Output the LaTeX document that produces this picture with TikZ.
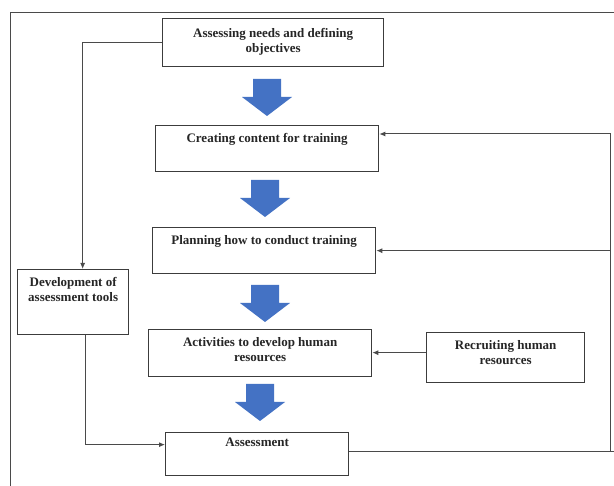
\documentclass[tikz,border=0pt]{standalone}
\usepackage{fontspec}
\setmainfont{Liberation Serif}
\usetikzlibrary{arrows.meta}
\definecolor{boxline}{HTML}{3C3C3C}
\definecolor{connline}{HTML}{4A4A4A}
\definecolor{arrowblue}{HTML}{4472C4}
\begin{document}
\begin{tikzpicture}[x=1pt,y=-1pt,
  box/.style={draw=boxline, line width=1.3pt, anchor=north west, inner sep=0pt},
  txt/.style={anchor=north, align=center, inner sep=0pt, text=black!85,
    font=\bfseries\fontsize{13}{15}\selectfont},
  conn/.style={draw=connline, line width=1pt},
  tip/.style={-{Latex[length=6pt,width=5pt]}},
  frameline/.style={draw=connline, line width=1pt},
  bigarr/.pic={\fill[arrowblue] (-14,0) -- (14,0) -- (14,18) -- (25,18) -- (0,37) -- (-25,18) -- (-14,18) -- cycle;}]
\useasboundingbox (0,0) rectangle (614,486);
\fill[white] (0,0) rectangle (614,486);
% frame
\draw[frameline] (10,486) -- (10,13) -- (614,13);
% boxes
\node[box, minimum width=221pt, minimum height=48pt] (b1) at (162,18) {};
\node[box, minimum width=223pt, minimum height=46pt] (b2) at (155,125) {};
\node[box, minimum width=223pt, minimum height=46pt] (b3) at (152,227) {};
\node[box, minimum width=223pt, minimum height=47pt] (b4) at (148,329) {};
\node[box, minimum width=183pt, minimum height=43pt] (b5) at (165,432) {};
\node[box, minimum width=111pt, minimum height=65pt] (b6) at (17,269) {};
\node[box, minimum width=158pt, minimum height=50pt] (b7) at (426,332) {};
% texts
\node[txt] (t1) at ([yshift=-10pt]b1.north) {Assessing needs and defining\\objectives};
\node[txt] (t2) at ([yshift=-8pt]b2.north) {Creating content for training};
\node[txt] (t3) at ([yshift=-8pt]b3.north) {Planning how to conduct training};
\node[txt] (t4) at ([yshift=-8pt]b4.north) {Activities to develop human\\resources};
\node[txt] (t5) at ([yshift=-6pt]b5.north) {Assessment};
\node[txt] (t6) at ([yshift=-8pt]b6.north) {Development of\\assessment tools};
\node[txt] (t7) at ([yshift=-8pt]b7.north) {Recruiting human\\resources};
% big arrows
\pic at (267,79) {bigarr};
\pic at (265,180) {bigarr};
\pic at (265,285) {bigarr};
\pic at (260,384) {bigarr};
% connectors
\coordinate (n6) at ([xshift=9.5pt]b6.north);
\draw[conn, tip] (b1.west) -| (n6);
\coordinate (s6) at ([xshift=12.5pt]b6.south);
\coordinate (w5) at ([yshift=9.5pt]b5.west);
\draw[conn, tip] (s6) |- (w5);
\coordinate (r7) at ([yshift=5pt]b7.west);
\draw[conn, tip] (r7) -- (r7 -| b4.east);
\coordinate (e5) at ([yshift=2.5pt]b5.east);
\coordinate (edge) at (614,0);
\draw[conn] (e5) -- (e5 -| edge);
\coordinate (vtop) at (610,134);
\draw[conn, tip] (vtop |- e5) -- (vtop) -- (vtop -| b2.east);
\draw[conn, tip] (vtop |- b3.east) -- (b3.east);
\end{tikzpicture}
\end{document}
